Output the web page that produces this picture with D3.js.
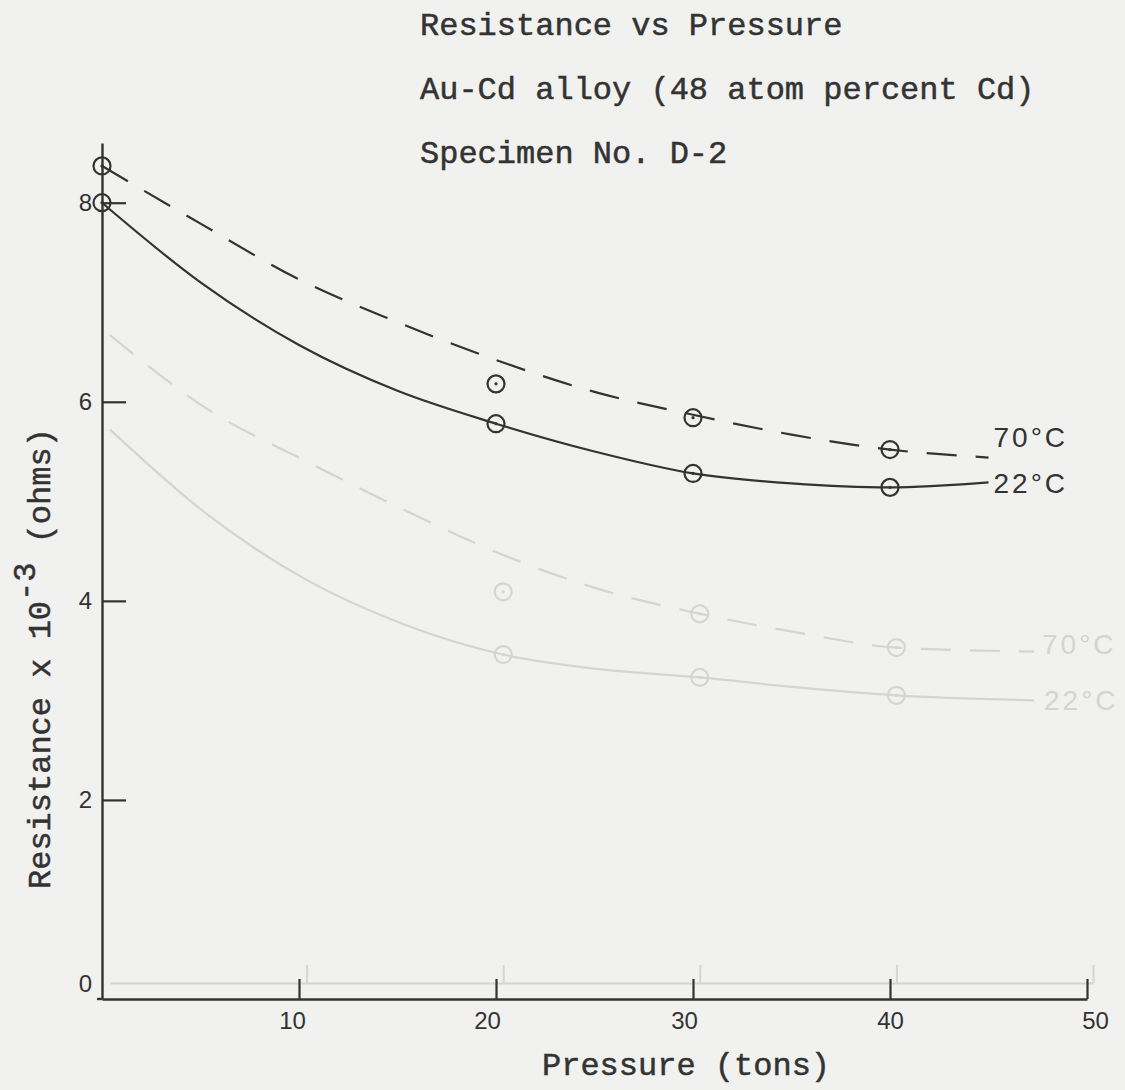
<!DOCTYPE html>
<html><head><meta charset="utf-8">
<script src="https://cdn.jsdelivr.net/npm/d3@7"></script>
<style>html,body{margin:0;padding:0;background:#f1f1ef;} svg{display:block}</style>
</head><body>
<svg id="chart" width="1125" height="1090"></svg>
<script>
// ---------- main chart data ----------
const titleLines = ["Resistance vs Pressure", "Au-Cd alloy (48 atom percent Cd)", "Specimen No. D-2"];
const xTicks = [10, 20, 30, 40, 50];
const yTicks = [0, 2, 4, 6, 8];
const xLabel = "Pressure (tons)";
const yLabelMain = "Resistance x 10";
const yLabelSup = "-3";
const yLabelTail = " (ohms)";
const seriesNames = ["70°C", "22°C"];
const pointPressure = [0, 20, 30, 40];
const points70 = [8.37, 6.18, 5.84, 5.52];
const points22 = [8.0, 5.78, 5.28, 5.14];
const curvePressure = [0, 5, 10, 15, 20, 25, 30, 35, 40, 45];
const curve70 = [8.37, 7.79, 7.23, 6.80, 6.42, 6.10, 5.87, 5.67, 5.52, 5.44];
const curve22 = [8.0, 7.20, 6.57, 6.11, 5.78, 5.50, 5.28, 5.18, 5.14, 5.19];

// ---------- faint show-through of the next sheet's curves ----------
const ghostPointPressure = [20, 30, 40];
const ghostPoints70 = [3.93, 3.71, 3.37];
const ghostPoints22 = [3.30, 3.07, 2.89];
const ghostCurvePressure = [0, 5, 10, 15, 20, 25, 30, 35, 40, 47];
const ghostCurve70 = [6.51, 5.76, 5.24, 4.75, 4.30, 3.95, 3.71, 3.52, 3.37, 3.33];
const ghostCurve22 = [5.56, 4.70, 4.05, 3.60, 3.30, 3.15, 3.07, 2.97, 2.89, 2.84];

const ink = "#333";
const ghost = "#d4d4d2";
const mono = "'Liberation Mono','Courier New',monospace";
const sans = "'Liberation Sans',Arial,sans-serif";

const svg = d3.select("#chart");
svg.append("rect").attr("width", 1125).attr("height", 1090).attr("fill", "#f1f1ef");

const x = d3.scaleLinear().domain([0, 50]).range([102, 1087]);
const y = d3.scaleLinear().domain([0, 8.6]).range([999, 143]);
const gx = d3.scaleLinear().domain([0, 50]).range([110, 1093]);
const gy = d3.scaleLinear().domain([0, 8.6]).range([983, 127]);

function drawSeries(g, xs, ys, px, vals, pxs, pvals, dashed, color) {
  const line = d3.line().x(d => xs(d[0])).y(d => ys(d[1])).curve(d3.curveMonotoneX);
  g.append("path")
    .datum(px.map((p, i) => [p, vals[i]]))
    .attr("d", line).attr("fill", "none").attr("stroke", color)
    .attr("stroke-width", 2.2)
    .attr("stroke-dasharray", dashed ? "30,19" : null);
  const pts = pxs.map((p, i) => [p, pvals[i]]);
  g.selectAll(null).data(pts).enter().append("circle")
    .attr("cx", d => xs(d[0])).attr("cy", d => ys(d[1])).attr("r", 8.5)
    .attr("fill", "none").attr("stroke", color).attr("stroke-width", 2.2);
  g.selectAll(null).data(pts).enter().append("circle")
    .attr("cx", d => xs(d[0])).attr("cy", d => ys(d[1])).attr("r", 1.6)
    .attr("fill", color);
}

// ---------- ghost layer (faint show-through) ----------
const G = svg.append("g").attr("class", "ghost");
const gAxis = d3.axisBottom(gx).tickValues(xTicks).tickSizeInner(-18).tickSizeOuter(0);
G.append("g").attr("transform", `translate(0,${gy(0)})`).call(gAxis)
  .call(g => {
    g.select(".domain").attr("stroke", ghost).attr("stroke-width", 2);
    g.selectAll(".tick line").attr("stroke", ghost).attr("stroke-width", 2);
    g.selectAll(".tick text").remove();
  });
drawSeries(G, gx, gy, ghostCurvePressure, ghostCurve70, ghostPointPressure, ghostPoints70, true, ghost);
drawSeries(G, gx, gy, ghostCurvePressure, ghostCurve22, ghostPointPressure, ghostPoints22, false, ghost);
G.append("text").attr("x", gx(47) + 8).attr("y", gy(ghostCurve70[9]) + 2)
  .attr("font-family", sans).attr("font-size", 28).attr("letter-spacing", 3).attr("fill", ghost).text(seriesNames[0]);
G.append("text").attr("x", gx(47) + 10).attr("y", gy(ghostCurve22[9]) + 10)
  .attr("font-family", sans).attr("font-size", 28).attr("letter-spacing", 3).attr("fill", ghost).text(seriesNames[1]);

// ---------- main chart ----------
const M = svg.append("g").attr("class", "main");
M.selectAll(null).data(titleLines).enter().append("text")
  .attr("x", 420).attr("y", (d, i) => 35 + i * 64)
  .attr("font-family", mono).attr("font-size", 32).attr("fill", ink)
  .attr("stroke", ink).attr("stroke-width", 0.5).text(d => d);

const xNudge = {10: -7, 20: -9, 30: -9, 40: 0, 50: 8};
const xAxis = d3.axisBottom(x).tickValues(xTicks).tickSizeInner(-20).tickSizeOuter(0).tickPadding(13);
M.append("g").attr("transform", `translate(0,${y(0)})`).call(xAxis)
  .call(g => {
    g.attr("font-family", sans).attr("font-size", 24);
    g.select(".domain").attr("stroke", ink).attr("stroke-width", 2.4);
    g.selectAll(".tick line").attr("stroke", ink).attr("stroke-width", 2.2);
    g.selectAll(".tick text").attr("fill", ink).attr("dx", d => xNudge[d] || 0);
  });
// small overhang of the baseline to the left of the origin
M.append("line").attr("x1", x(0) - 5).attr("x2", x(0)).attr("y1", y(0)).attr("y2", y(0))
  .attr("stroke", ink).attr("stroke-width", 2.4);

const yAxis = d3.axisLeft(y).tickValues(yTicks).tickSizeInner(-24).tickSizeOuter(0).tickPadding(10);
M.append("g").attr("transform", `translate(${x(0)},0)`).call(yAxis)
  .call(g => {
    g.attr("font-family", sans).attr("font-size", 24);
    g.select(".domain").attr("stroke", ink).attr("stroke-width", 2.4);
    g.selectAll(".tick line").attr("stroke", ink).attr("stroke-width", 2.2);
    g.selectAll(".tick text").attr("fill", ink);
    g.selectAll(".tick").filter(d => d === 0).select("line").remove();
    g.selectAll(".tick").filter(d => d === 0).select("text").attr("y", -15);
  });

drawSeries(M, x, y, curvePressure, curve70, pointPressure, points70, true, ink);
drawSeries(M, x, y, curvePressure, curve22, pointPressure, points22, false, ink);

M.append("text").attr("x", x(45) + 5).attr("y", y(curve70[9]) - 11)
  .attr("font-family", sans).attr("font-size", 28).attr("letter-spacing", 3).attr("fill", ink).text(seriesNames[0]);
M.append("text").attr("x", x(45) + 5).attr("y", y(curve22[9]) + 11)
  .attr("font-family", sans).attr("font-size", 28).attr("letter-spacing", 3).attr("fill", ink).text(seriesNames[1]);

M.append("text").attr("x", 542).attr("y", 1075)
  .attr("font-family", mono).attr("font-size", 32).attr("fill", ink)
  .attr("stroke", ink).attr("stroke-width", 0.5).text(xLabel);

const yl = M.append("text").attr("transform", "translate(50,889) rotate(-90)")
  .attr("font-family", mono).attr("font-size", 32).attr("fill", ink)
  .attr("stroke", ink).attr("stroke-width", 0.5);
yl.append("tspan").text(yLabelMain);
yl.append("tspan").attr("dy", -15).text(yLabelSup);
yl.append("tspan").attr("dy", 15).text(yLabelTail);
</script>
</body></html>
